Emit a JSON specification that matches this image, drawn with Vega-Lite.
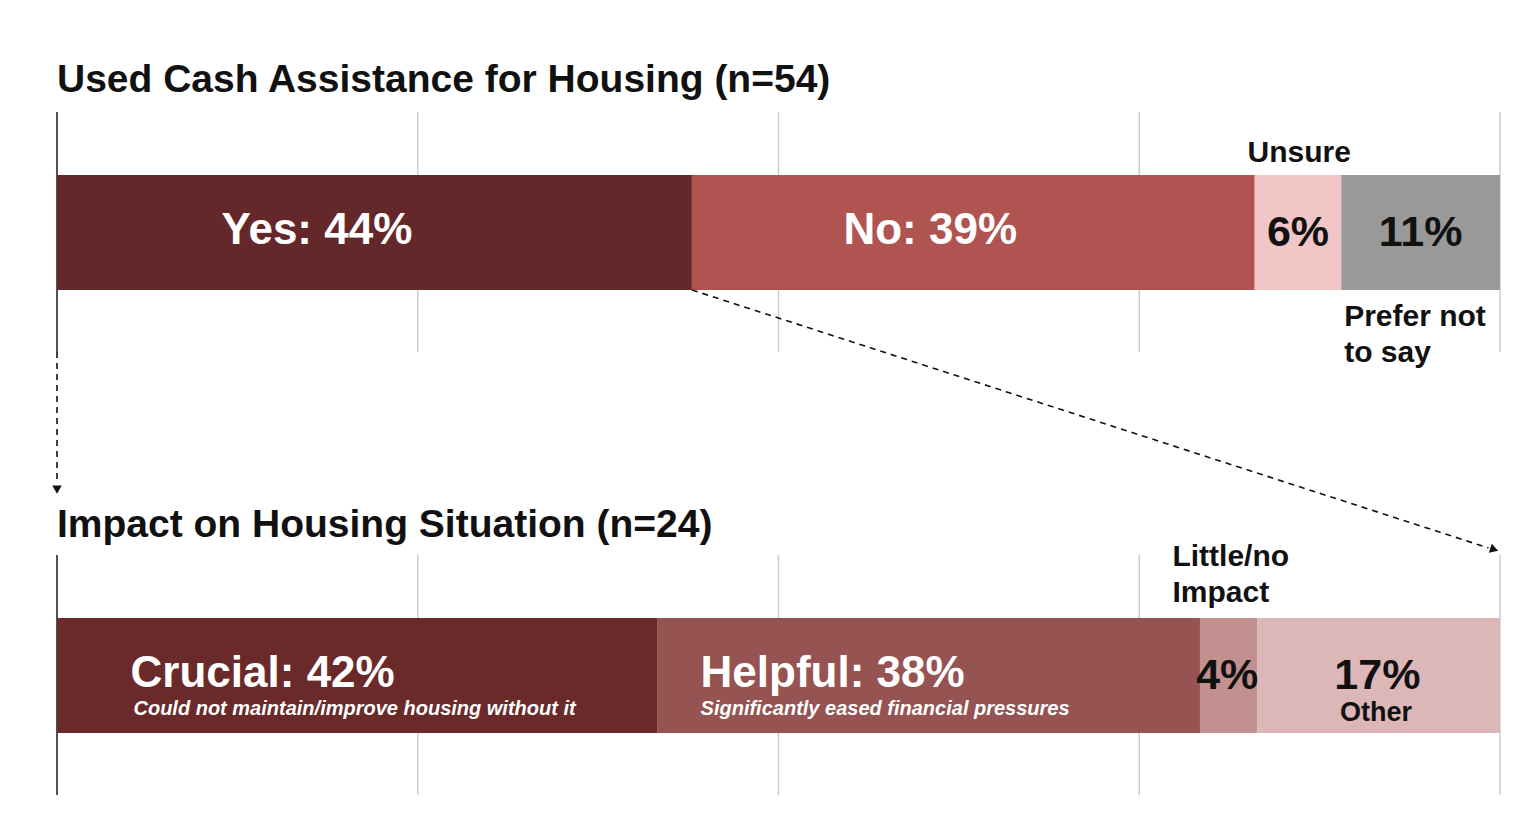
{
  "$schema": "https://vega.github.io/schema/vega-lite/v6.json",
  "width": 1443,
  "height": 834,
  "autosize": {"type": "none"},
  "padding": {"left": 57, "right": 34, "top": 0, "bottom": 0},
  "background": "white",
  "config": {"view": {"stroke": null}, "text": {"font": "Liberation Sans"}},
  "datasets": {
    "segments": [
      {"question": "q1", "category": "Yes", "order": 1, "value": 44},
      {"question": "q1", "category": "No", "order": 2, "value": 39},
      {"question": "q1", "category": "Unsure", "order": 3, "value": 6},
      {"question": "q1", "category": "Prefer not to say", "order": 4, "value": 11},
      {"question": "q2", "category": "Crucial", "order": 1, "value": 42},
      {"question": "q2", "category": "Helpful", "order": 2, "value": 38},
      {"question": "q2", "category": "Little/no Impact", "order": 3, "value": 4},
      {"question": "q2", "category": "Other", "order": 4, "value": 17}
    ],
    "barLabels": [
      {"question": "q1", "kind": "main", "x": 11.4, "label": "Yes: 44%"},
      {"question": "q1", "kind": "main", "x": 54.5, "label": "No: 39%"},
      {"question": "q1", "kind": "pct", "x": 86.0, "label": "6%"},
      {"question": "q1", "kind": "pct", "x": 94.5, "label": "11%"},
      {"question": "q2", "kind": "main", "x": 5.1, "label": "Crucial: 42%"},
      {"question": "q2", "kind": "main", "x": 44.6, "label": "Helpful: 38%"},
      {"question": "q2", "kind": "pct", "x": 81.1, "label": "4%"},
      {"question": "q2", "kind": "pct", "x": 91.5, "label": "17%"},
      {"question": "q2", "kind": "sub", "x": 5.3, "label": "Could not maintain/improve housing without it"},
      {"question": "q2", "kind": "sub", "x": 44.6, "label": "Significantly eased financial pressures"},
      {"question": "q2", "kind": "other", "x": 91.4, "label": "Other"}
    ],
    "titles": [
      {"x": 0, "y": 11.03, "label": "Used Cash Assistance for Housing (n=54)"},
      {"x": 0, "y": 64.39, "label": "Impact on Housing Situation (n=24)"}
    ],
    "notes": [
      {"x": 82.5, "y": 19.42, "label": "Unsure"},
      {"x": 89.2, "y": 39.09, "label": "Prefer not"},
      {"x": 89.2, "y": 43.41, "label": "to say"},
      {"x": 77.3, "y": 67.87, "label": "Little/no"},
      {"x": 77.3, "y": 72.18, "label": "Impact"}
    ],
    "grid": [
      {"x": 0, "y": 13.43, "y2": 42.2, "kind": "zero"},
      {"x": 25, "y": 13.43, "y2": 42.2, "kind": "grid"},
      {"x": 50, "y": 13.43, "y2": 42.2, "kind": "grid"},
      {"x": 75, "y": 13.43, "y2": 42.2, "kind": "grid"},
      {"x": 100, "y": 13.43, "y2": 42.2, "kind": "grid"},
      {"x": 0, "y": 66.55, "y2": 95.32, "kind": "zero"},
      {"x": 25, "y": 66.55, "y2": 95.32, "kind": "grid"},
      {"x": 50, "y": 66.55, "y2": 95.32, "kind": "grid"},
      {"x": 75, "y": 66.55, "y2": 95.32, "kind": "grid"},
      {"x": 100, "y": 66.55, "y2": 95.32, "kind": "grid"}
    ],
    "arrows": [
      {"x": 0, "y": 42.2, "x2": 0, "y2": 58.0},
      {"x": 44.0, "y": 34.77, "x2": 99.2, "y2": 65.7}
    ],
    "heads": [
      {"x": 0, "y": 58.7, "dir": 90},
      {"x": 99.6, "y": 65.9, "dir": 17.9}
    ]
  },
  "layer": [
    {
      "data": {"name": "grid"},
      "mark": {"type": "rule", "strokeWidth": 1.5},
      "encoding": {
        "x": {"field": "x", "type": "quantitative", "scale": {"domain": [0, 100], "nice": false, "zero": false}, "axis": null},
        "y": {"field": "y", "type": "quantitative", "scale": {"domain": [0, 100], "reverse": true, "nice": false, "zero": false}, "axis": null},
        "y2": {"field": "y2"},
        "color": {"field": "kind", "type": "nominal", "scale": {"domain": ["zero", "grid"], "range": ["#1a1a1a", "#cccccc"]}, "legend": null}
      }
    },
    {
      "data": {"name": "segments"},
      "transform": [
        {"stack": "value", "groupby": ["question"], "sort": [{"field": "order", "order": "ascending"}], "offset": "normalize", "as": ["s0", "s1"]}
      ],
      "mark": {"type": "bar"},
      "encoding": {
        "x": {"field": "s0", "type": "quantitative", "scale": {"domain": [0, 1], "nice": false, "zero": false}, "axis": null},
        "x2": {"field": "s1"},
        "y": {"field": "question", "type": "nominal", "scale": {"type": "band", "domain": ["q1", "q2"], "paddingInner": 0.7404, "paddingOuter": 0.3115, "align": 0.634}, "axis": null},
        "color": {
          "field": "category", "type": "nominal", "legend": null,
          "scale": {
            "domain": ["Yes", "No", "Unsure", "Prefer not to say", "Crucial", "Helpful", "Little/no Impact", "Other"],
            "range": ["#65282a", "#b05452", "#f2c6c6", "#999999", "#6b2a2a", "#955351", "#c39090", "#ddb7b7"]
          }
        }
      }
    },
    {
      "data": {"name": "barLabels"},
      "transform": [{"filter": "datum.kind === 'main'"}],
      "mark": {"type": "text", "align": "left", "baseline": "alphabetic", "dy": 12, "fontSize": 44, "fontWeight": "bold", "color": "white"},
      "encoding": {
        "x": {"field": "x", "type": "quantitative", "scale": {"domain": [0, 100], "nice": false, "zero": false}, "axis": null},
        "y": {"field": "question", "type": "nominal", "scale": {"type": "band", "domain": ["q1", "q2"], "paddingInner": 0.7404, "paddingOuter": 0.3115, "align": 0.634}, "axis": null},
        "text": {"field": "label"}
      }
    },
    {
      "data": {"name": "barLabels"},
      "transform": [{"filter": "datum.kind === 'pct'"}],
      "mark": {"type": "text", "align": "center", "baseline": "alphabetic", "dy": 14, "fontSize": 43, "fontWeight": "bold", "color": "#111111"},
      "encoding": {
        "x": {"field": "x", "type": "quantitative", "scale": {"domain": [0, 100], "nice": false, "zero": false}, "axis": null},
        "y": {"field": "question", "type": "nominal", "scale": {"type": "band", "domain": ["q1", "q2"], "paddingInner": 0.7404, "paddingOuter": 0.3115, "align": 0.634}, "axis": null},
        "text": {"field": "label"}
      }
    },
    {
      "data": {"name": "barLabels"},
      "transform": [{"filter": "datum.kind === 'sub'"}],
      "mark": {"type": "text", "align": "left", "baseline": "alphabetic", "dy": 40, "fontSize": 20, "fontWeight": "bold", "fontStyle": "italic", "color": "white"},
      "encoding": {
        "x": {"field": "x", "type": "quantitative", "scale": {"domain": [0, 100], "nice": false, "zero": false}, "axis": null},
        "y": {"field": "question", "type": "nominal", "scale": {"type": "band", "domain": ["q1", "q2"], "paddingInner": 0.7404, "paddingOuter": 0.3115, "align": 0.634}, "axis": null},
        "text": {"field": "label"}
      }
    },
    {
      "data": {"name": "barLabels"},
      "transform": [{"filter": "datum.kind === 'other'"}],
      "mark": {"type": "text", "align": "center", "baseline": "alphabetic", "dy": 46, "fontSize": 27, "fontWeight": "bold", "color": "#111111"},
      "encoding": {
        "x": {"field": "x", "type": "quantitative", "scale": {"domain": [0, 100], "nice": false, "zero": false}, "axis": null},
        "y": {"field": "question", "type": "nominal", "scale": {"type": "band", "domain": ["q1", "q2"], "paddingInner": 0.7404, "paddingOuter": 0.3115, "align": 0.634}, "axis": null},
        "text": {"field": "label"}
      }
    },
    {
      "data": {"name": "titles"},
      "mark": {"type": "text", "align": "left", "baseline": "alphabetic", "fontSize": 39, "fontWeight": "bold", "color": "#111111"},
      "encoding": {
        "x": {"field": "x", "type": "quantitative", "scale": {"domain": [0, 100], "nice": false, "zero": false}, "axis": null},
        "y": {"field": "y", "type": "quantitative", "scale": {"domain": [0, 100], "reverse": true, "nice": false, "zero": false}, "axis": null},
        "text": {"field": "label"}
      }
    },
    {
      "data": {"name": "notes"},
      "mark": {"type": "text", "align": "left", "baseline": "alphabetic", "fontSize": 30, "fontWeight": "bold", "color": "#111111"},
      "encoding": {
        "x": {"field": "x", "type": "quantitative", "scale": {"domain": [0, 100], "nice": false, "zero": false}, "axis": null},
        "y": {"field": "y", "type": "quantitative", "scale": {"domain": [0, 100], "reverse": true, "nice": false, "zero": false}, "axis": null},
        "text": {"field": "label"}
      }
    },
    {
      "data": {"name": "arrows"},
      "mark": {"type": "rule", "strokeDash": [6, 5], "strokeWidth": 1.6, "color": "#111111"},
      "encoding": {
        "x": {"field": "x", "type": "quantitative", "scale": {"domain": [0, 100], "nice": false, "zero": false}, "axis": null},
        "y": {"field": "y", "type": "quantitative", "scale": {"domain": [0, 100], "reverse": true, "nice": false, "zero": false}, "axis": null},
        "x2": {"field": "x2"},
        "y2": {"field": "y2"}
      }
    },
    {
      "data": {"name": "heads"},
      "mark": {"type": "point", "shape": "triangle-right", "filled": true, "size": 90, "color": "#111111", "opacity": 1},
      "encoding": {
        "x": {"field": "x", "type": "quantitative", "scale": {"domain": [0, 100], "nice": false, "zero": false}, "axis": null},
        "y": {"field": "y", "type": "quantitative", "scale": {"domain": [0, 100], "reverse": true, "nice": false, "zero": false}, "axis": null},
        "angle": {"field": "dir", "type": "quantitative", "scale": null}
      }
    }
  ],
  "resolve": {"scale": {"x": "independent", "y": "independent", "color": "independent"}}
}
